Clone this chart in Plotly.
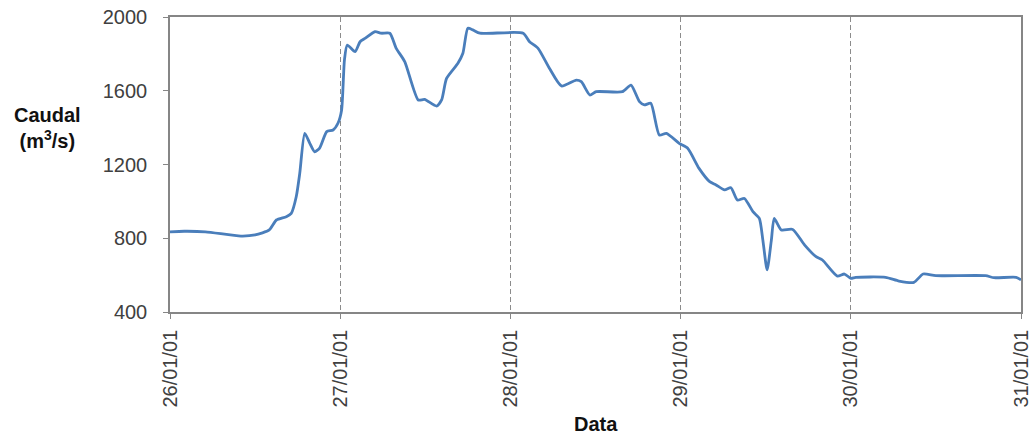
import datetime as dt
import plotly.graph_objects as go

# Hourly offsets from 26/01/2001 00:00 and river discharge (m3/s)
hours = [0, 2, 5, 10, 12, 14, 15, 16.4, 17.1, 17.8, 18.3, 19.0, 19.7, 20.4, 21.1,
         22.1, 23.0, 23.7, 24.2, 24.6, 25.0, 26.1, 26.8, 27.5, 28.9, 29.8, 31.0,
         31.9, 33.1, 35.0, 35.9, 37.6, 38.3, 39.0, 40.6, 41.3, 42.0, 42.7, 43.7,
         49.8, 50.7, 51.9, 53.5, 55.2, 57.3, 58.0, 59.2, 60.1, 63.8, 65.0, 66.2,
         66.9, 67.8, 69.0, 70.0, 71.8, 73.0, 74.6, 76.1, 77.0, 78.2, 79.1, 80.0,
         81.0, 82.2, 83.1, 83.6, 84.2, 84.8, 85.2, 86.2, 87.8, 89.5, 91.1, 92.0,
         94.1, 95.1, 96.0, 96.7, 100.9, 102.8, 104.9, 106.2, 108.0, 115.0, 116.2,
         119.3, 120.0]
caudal = [835, 838, 835, 812, 818, 845, 899, 917, 935, 1025, 1153, 1369, 1316, 1269, 1289,
          1378, 1387, 1425, 1496, 1767, 1848, 1812, 1866, 1884, 1920, 1912, 1912,
          1830, 1758, 1550, 1553, 1517, 1550, 1667, 1749, 1803, 1939, 1930, 1912,
          1912, 1866, 1830, 1722, 1626, 1658, 1649, 1577, 1595, 1595, 1631, 1541,
          1523, 1532, 1360, 1369, 1315, 1288, 1179, 1107, 1089, 1062, 1074, 1007,
          1016, 944, 908, 790, 628, 790, 908, 845, 848, 763, 700, 682,
          595, 606, 583, 588, 588, 568, 561, 606, 597, 597, 586,
          588, 574]
y_ticks = [400, 800, 1200, 1600, 2000]

start = dt.datetime(2001, 1, 26)
times = [start + dt.timedelta(hours=h) for h in hours]
day_ticks = [start + dt.timedelta(days=d) for d in range(6)]
tick_text = [d.strftime("%d/%m/%y") for d in day_ticks]

fig = go.Figure()
fig.add_trace(go.Scatter(
    x=times, y=caudal, mode="lines",
    line=dict(color="#4A7EBB", width=2.8, shape="spline", smoothing=0.6),
    showlegend=False, hoverinfo="skip",
))

axis_col = "#868686"
label_font = dict(family="Liberation Sans, Arial, sans-serif", size=20, color="#404040")
title_font = dict(family="Liberation Sans, Arial, sans-serif", size=20, color="#111111")

fig.update_layout(
    width=1030, height=436,
    margin=dict(l=170, r=9, t=17, b=124),
    paper_bgcolor="white", plot_bgcolor="white",
    xaxis=dict(
        range=[day_ticks[0], day_ticks[-1]], automargin=False,
        tickmode="array", tickvals=day_ticks, ticktext=tick_text,
        tickangle=-90, tickfont=label_font, ticklabeloverflow="allow",
        showgrid=True, gridcolor="#8c8c8c", griddash="5px,3px", gridwidth=1,
        showline=True, linecolor=axis_col, linewidth=1.5, mirror=True,
        ticks="outside", ticklen=5, tickcolor=axis_col,
        zeroline=False, ticklabelstandoff=3,
    ),
    yaxis=dict(
        range=[400, 2000], tickmode="array", tickvals=y_ticks, automargin=False,
        tickfont=label_font, showgrid=False,
        showline=True, linecolor=axis_col, linewidth=1.5, mirror=True,
        ticks="outside", ticklen=5, tickcolor=axis_col,
        zeroline=False, ticklabelstandoff=12,
    ),
    annotations=[
        dict(text="<b>Caudal<br>(m<sup>3</sup>/s)</b>", xref="paper", yref="paper",
             x=-0.144, y=0.625, xanchor="center", yanchor="middle", showarrow=False,
             font=title_font),
        dict(text="<b>Data</b>", xref="paper", yref="paper",
             x=0.501, y=-0.38, xanchor="center", yanchor="middle", showarrow=False,
             font=title_font),
    ],
)

fig.write_html("out.html")
